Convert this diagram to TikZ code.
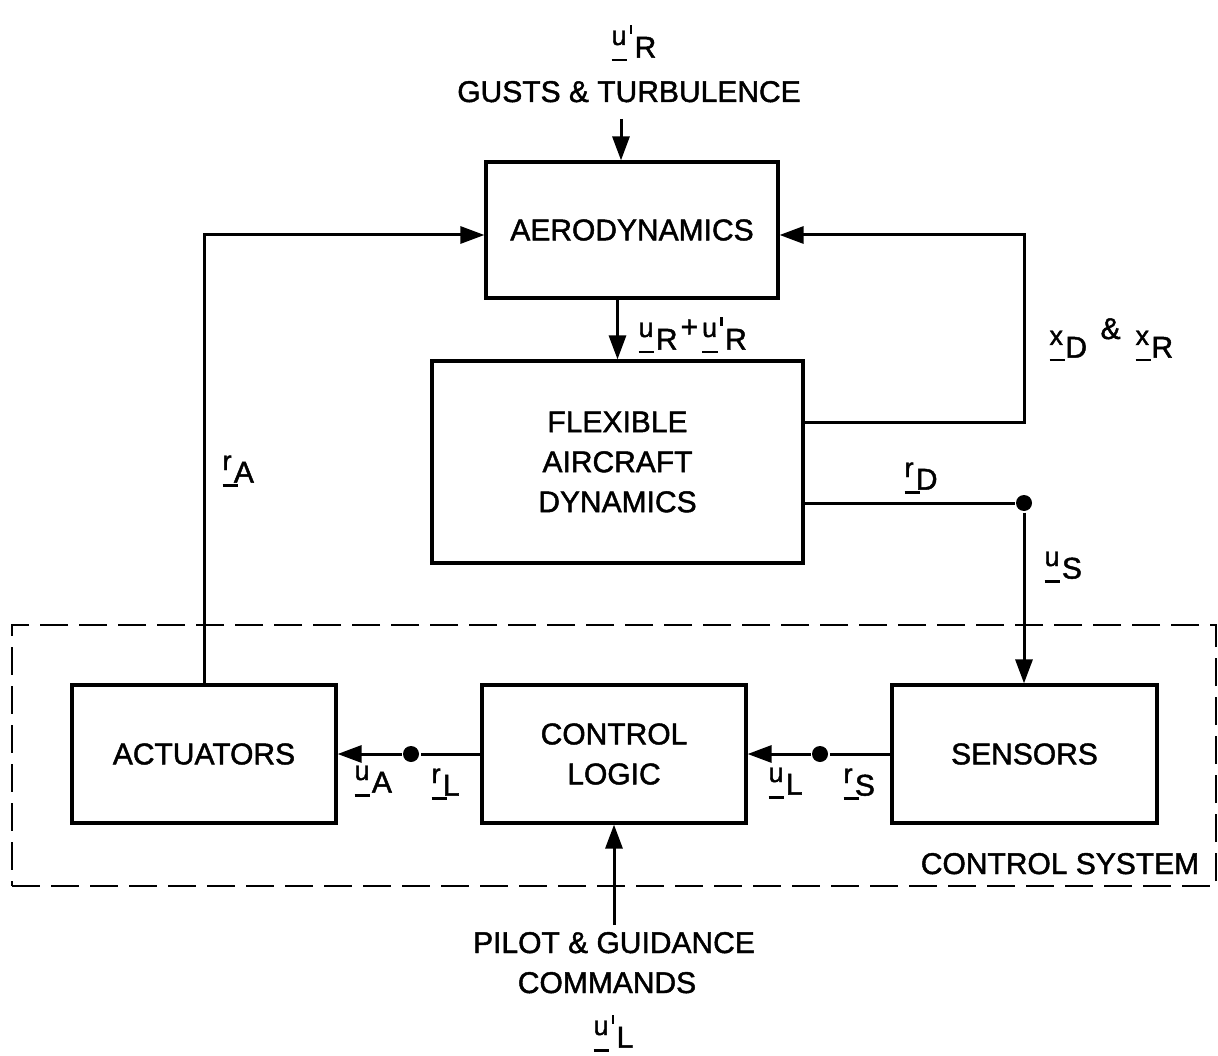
\documentclass[tikz,border=0pt]{standalone}
\usepackage{fontspec}
\setmainfont{Liberation Sans}
\newfontfamily\lettering{Liberation Sans}[FakeBold=1.5]
\usetikzlibrary{arrows.meta}
\newcommand\lc[1]{{\fontsize{27}{27}\selectfont #1}}
\newcommand\vs[2]{\rlap{\rule[-0.55em]{0.52em}{2.4pt}}\lc{#1}\kern0.08em\raisebox{-0.42em}{#2}}
\newcommand\vsp[2]{\rlap{\rule[-0.55em]{0.52em}{2.4pt}}\lc{#1}\kern0.1em\rlap{\raisebox{0.38em}{\rule{2.6pt}{0.3em}}}\kern0.17em\raisebox{-0.42em}{#2}}
\begin{document}
\begin{tikzpicture}[x=1pt,y=-1pt,
  font=\lettering\fontsize{30}{40}\selectfont,
  line width=3pt,
  box/.style={draw, line width=3.2pt, align=center, inner sep=0pt},
  arr/.style={-{Triangle[length=24pt,width=17pt]}},
  dot/.style={circle, fill, inner sep=0pt, minimum size=16pt},
  lab/.style={anchor=base west, inner sep=0pt},
  txt/.style={anchor=base, inner sep=0pt},
  frame/.style={draw, line width=2.2pt, dash pattern=on 28pt off 11pt}]
\path[use as bounding box] (0,0) rectangle (1218,1056);

% boxes
\node[box, minimum width=292pt, minimum height=136pt] (aero) at (632,230) {AERODYNAMICS};
\node[box, minimum width=371pt, minimum height=202pt] (flex) at (617.5,462) {FLEXIBLE\\AIRCRAFT\\DYNAMICS};
\node[box, minimum width=264pt, minimum height=138pt] (act) at (204,754) {ACTUATORS};
\node[box, minimum width=264pt, minimum height=138pt] (cl) at (614,754) {CONTROL\\LOGIC};
\node[box, minimum width=265pt, minimum height=138pt] (sens) at (1024.5,754) {SENSORS};

% control system frame
\node[frame, minimum width=1204pt, minimum height=261pt] (cs) at (614,755.5) {};
\node[txt] (csl) at (1060,874) {CONTROL SYSTEM};

% top inputs
\node[lab] (luR) at (610,45) {\vsp{u}{R}};
\node[txt] (gt) at (629,102) {GUSTS \& TURBULENCE};
\coordinate (gtop) at (621,119);
\draw[arr] (gtop) -- (gtop |- aero.north);

% aero -> flex
\draw[arr] (aero.south -| flex.north) -- (flex.north);
\node[lab] (lsum) at (637,337) {\vs{u}{R}\kern3pt+\kern4pt\vsp{u}{R}};

% feedback flex -> aero
\coordinate (fbr) at (1024,235);
\draw[arr] ([yshift=40pt]flex.east) -| (fbr) -- (aero.east |- fbr);
\node[lab] (lxx) at (1048,345) {\vs{x}{D}\kern0.45em\raisebox{0.2em}{\&}\kern0.5em\vs{x}{R}};

% r_D / u_S
\node[dot] (dD) at (1024,503) {};
\draw ([yshift=-41pt]flex.east) -- (dD);
\draw[arr] (dD) -- (dD |- sens.north);
\node[lab] (lrD) at (903,477) {\vs{r}{D}};
\node[lab] (luS) at (1043,566) {\vs{u}{S}};

% sensors -> control logic
\node[dot] (dS) at (820,754) {};
\draw (sens.west) -- (dS);
\draw[arr] (dS) -- (cl.east);
\node[lab] (luL) at (767,782) {\vs{u}{L}};
\node[lab] (lrS) at (842,783) {\vs{r}{S}};

% control logic -> actuators
\node[dot] (dL) at (411,754) {};
\draw (cl.west) -- (dL);
\draw[arr] (dL) -- (act.east);
\node[lab] (luA) at (353,780) {\vs{u}{A}};
\node[lab] (lrL) at (430,783) {\vs{r}{L}};

% actuators -> aero
\draw[arr] (act.north) -- (act.north |- fbr) -- (aero.west |- fbr);
\node[lab] (lrA) at (221,470) {\vs{r}{A}};

% pilot commands
\node[txt] (pil1) at (614,953) {PILOT \& GUIDANCE};
\node[txt] (pil2) at (607,993) {COMMANDS};
\node[lab] (luLp) at (592,1035) {\vsp{u}{L}};
\coordinate (ptop) at (614,925);
\draw[arr] (ptop) -- (ptop |- cl.south);
\end{tikzpicture}
\end{document}
